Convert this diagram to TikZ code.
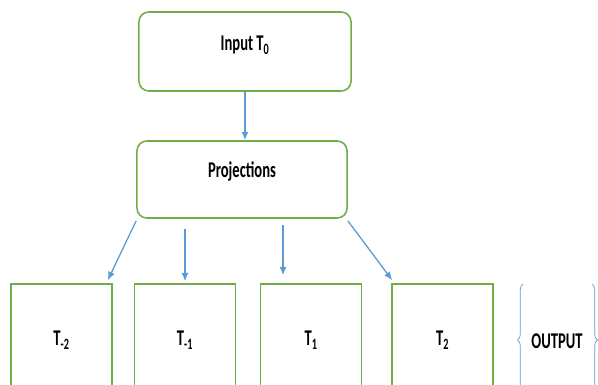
\documentclass[tikz,border=0pt]{standalone}
\usepackage{fontspec}
\setmainfont{Carlito}
\usepackage{tikz}
\usetikzlibrary{arrows.meta}
\usetikzlibrary{calc}
\usetikzlibrary{decorations.pathreplacing}
\tikzset{>={Latex[length=6pt,width=5pt]}}
\definecolor{boxgreen}{HTML}{70AD47}
\definecolor{flowblue}{HTML}{5B9BD5}
\newcommand{\boxtext}[1]{\scalebox{0.65}[1]{\fontsize{16}{18}\selectfont\bfseries #1}}
\tikzset{
	roundbox/.style={draw=boxgreen,line width=1.1pt,rounded corners=7pt,inner sep=0pt},
	outbox/.style={draw=boxgreen,line width=1.1pt,minimum width=2.525cm,minimum height=2.8cm,inner sep=0pt},
	flow/.style={->,flowblue,line width=0.9pt},
}

\begin{document}
\begin{tikzpicture}[x=0.025cm,y=-0.025cm]
		\clip (0,0) rectangle (598,385);

		% top boxes
		\node[roundbox,minimum width=5.3cm,minimum height=1.975cm,
			label={[yshift=6.5*0.025cm]center:\boxtext{Input T\textsubscript{0}}}] (input) at (245,51.5) {};
		\node[roundbox,minimum width=5.25cm,minimum height=1.925cm,
			label={[yshift=8*0.025cm]center:\boxtext{Projections}}] (proj) at (242,179.5) {};

		% output boxes
		\node[outbox] (tm2) at (61.5,340) {\boxtext{T\textsubscript{-2}}};
		\node[outbox] (tm1) at (185,340) {\boxtext{T\textsubscript{-1}}};
		\node[outbox] (tp1) at (311,340) {\boxtext{T\textsubscript{1}}};
		\node[outbox] (tp2) at (442.5,340) {\boxtext{T\textsubscript{2}}};

		\coordinate (s2) at (185,229);
		\coordinate (s3) at (283,225);

		\draw[flow] (input.south) -- (input.south |- proj.north);
		\draw[flow] ($(proj.south west)+(0,2)$) -- ($(tm2.north east)+(-5,-3)$);
		\draw[flow] (s2) -- ($(tm1.north)+(0,-2)$);
		\draw[flow] (s3) -- ($(s3 |- tp1.north)+(0,-8)$);
		\draw[flow] ($(proj.south east)+(0,2)$) -- ($(tp2.north west)+(1,-3)$);

		% output brace
		\draw[flowblue,line width=0.5pt,decorate,decoration={brace,amplitude=5.5*0.025cm}] (523,396) -- (523,284);
		\draw[flowblue,line width=0.5pt,decorate,decoration={brace,amplitude=5.5*0.025cm}] (592,284) -- (592,396);
		\node (out) at (557,341) {\boxtext{OUTPUT}};
	\end{tikzpicture}
\end{document}
